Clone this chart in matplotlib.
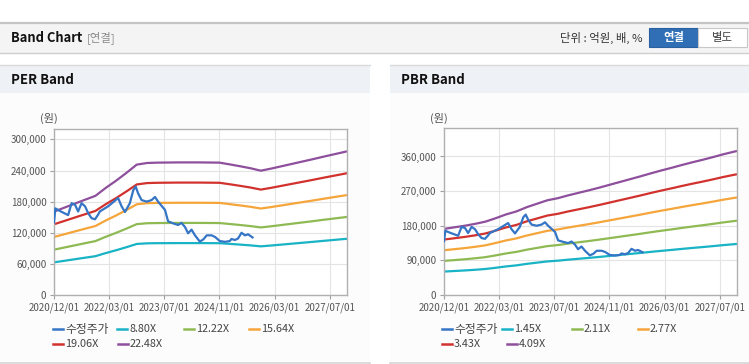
import matplotlib.pyplot as plt
from matplotlib.patches import Rectangle
from matplotlib.lines import Line2D
from matplotlib.ticker import FuncFormatter

plt.rcParams['font.family'] = ['Noto Sans CJK KR', 'DejaVu Sans']

W, H = 749, 364

# x axis: months counted from 2020/12/01
tick_months = [0, 16, 32, 48, 64, 80]
tick_labels = ['2020/12/01', '2022/03/01', '2023/07/01', '2024/11/01', '2026/03/01', '2027/07/01']

band_months = list(range(0, 85, 3)) + [85]
eps = [7150, 7490, 7830, 8170, 8500, 9180, 9800, 10470, 11180, 11320,
       11350, 11360, 11370, 11370, 11370, 11360, 11350, 11200, 11040, 10870,
       10660, 10840, 11040, 11240, 11440, 11640, 11850, 12050, 12250, 12320]
bps = [42000, 43000, 44000, 45200, 46600, 48800, 51200, 53100, 55800, 58000,
       60200, 61500, 63300, 64900, 66500, 68200, 70000, 71800, 73600, 75400,
       77300, 79100, 80800, 82600, 84300, 85900, 87600, 89400, 91000, 91500]

per_multiples = [8.80, 12.22, 15.64, 19.06, 22.48]
pbr_multiples = [1.45, 2.11, 2.77, 3.43, 4.09]
band_colors = ['#19b3c6', '#8fba53', '#f5a53a', '#d1322e', '#8e4f9c']
price_color = '#3575c6'

price_months = [0, 0.4, 1.7, 3.2, 4.1, 5.1, 6.1, 7.0, 8.0, 9.0, 9.9, 10.9, 11.9, 12.8, 13.3,
                14.5, 15.7, 17.0, 18.6, 19.6, 20.6, 22.0, 23.0, 23.7, 24.4, 25.4, 26.9, 28.3,
                29.3, 30.2, 31.2, 32.2, 33.1, 34.6, 36.0, 37.0, 38.0, 38.9, 39.9, 40.9, 42.3,
                43.3, 44.3, 45.7, 46.7, 48.1, 49.6, 51.0, 51.5, 52.5, 53.4, 54.4, 55.4, 56.3, 57.6]
price = [140000, 167000, 162000, 157000, 154000, 177000, 174000, 161000, 177000, 171000,
         158000, 148000, 146000, 155000, 161000, 166000, 171000, 178000, 187000, 171000,
         160000, 177000, 202000, 209000, 196000, 183000, 180000, 183000, 189000, 180000,
         172000, 164000, 142000, 138000, 135000, 139000, 131000, 119000, 126000, 115000,
         103000, 107000, 115000, 115000, 112000, 104000, 102500, 104000, 108000, 106000,
         109000, 120000, 115000, 117000, 111000]

per_yticks = [0, 60000, 120000, 180000, 240000, 300000]
pbr_yticks = [0, 90000, 180000, 270000, 360000]


def fx(x):
    return x / W


def fy(y):
    return 1 - y / H


def rect(fig, x0, y0, x1, y1, z=-5, **kw):
    fig.add_artist(Rectangle((fx(x0), fy(y1)), fx(x1) - fx(x0), fy(y0) - fy(y1),
                             transform=fig.transFigure, zorder=z, **kw))


def hline(fig, x0, x1, y, color, lw=1.0):
    fig.add_artist(Line2D([fx(x0), fx(x1)], [fy(y), fy(y)], transform=fig.transFigure,
                          color=color, lw=lw, zorder=-4))


fig = plt.figure(figsize=(W / 100, H / 100), dpi=100)

# top header bar
hline(fig, 0, W, 22.5, '#c4c4c4', lw=1.6)
rect(fig, 0, 23.5, W, 52.5, facecolor='#f4f4f4', edgecolor='none')
hline(fig, 0, W, 53, '#cfcfcf', lw=1.0)
fig.text(fx(11), fy(38), 'Band Chart', fontsize=9.3, fontweight='bold', color='#111', va='center')
fig.text(fx(87), fy(38), '[연결]', fontsize=8.2, color='#8a8a8a', va='center')
fig.text(fx(643), fy(38), '단위 : 억원, 배, %', fontsize=8.2, color='#333', va='center', ha='right')
rect(fig, 649, 28, 698, 47, z=1, facecolor='#306fb5', edgecolor='#2a609f', lw=0.8)
rect(fig, 698, 28, 747, 47, z=1, facecolor='white', edgecolor='#c8c8c8', lw=0.8)
fig.text(fx(673.5), fy(37.5), '연결', fontsize=8.2, fontweight='bold', color='white', va='center', ha='center')
fig.text(fx(722.5), fy(37.5), '별도', fontsize=8.2, color='#444', va='center', ha='center')


def panel(x0, x1, title, multiples, base, yticks, ymax, ax_px, legend_cols):
    hline(fig, x0, x1, 64.5, '#dadada')
    rect(fig, x0, 65, x1, 92.5, facecolor='#eef1f5', edgecolor='none')
    rect(fig, x0, 92.5, x1, 362, facecolor='#fcfcfc', edgecolor='none')
    hline(fig, x0, x1, 363, '#d6d6d6', lw=1.2)
    fig.text(fx(x0 + 11), fy(79.5), title, fontsize=9.5, fontweight='bold', color='#111', va='center')

    left, right, top, bottom = ax_px
    ax = fig.add_axes([fx(left), fy(bottom), fx(right) - fx(left), fy(top) - fy(bottom)])
    ax.set_facecolor('white')
    for m, c in zip(multiples, band_colors):
        ax.plot(band_months, [v * m for v in base], color=c, lw=1.6, solid_capstyle='butt')
    ax.plot(price_months, price, color=price_color, lw=1.6, zorder=5)
    ax.set_xlim(0, 85)
    ax.set_ylim(0, ymax)
    ax.set_xticks(tick_months)
    ax.set_xticklabels(tick_labels)
    ax.set_yticks(yticks)
    ax.yaxis.set_major_formatter(FuncFormatter(lambda v, p: f'{int(v):,}'))
    ax.grid(color='#e4e4e4', lw=0.8)
    ax.set_axisbelow(True)
    for s in ax.spines.values():
        s.set_color('#b0b0b0')
        s.set_linewidth(1.0)
    ax.tick_params(length=3, color='#a0a0a0', labelsize=7, labelcolor='#555555', pad=2.5)
    fig.text(fx(left - 5), fy(118), '(원)', fontsize=8, color='#555', va='center', ha='center')

    names = ['수정주가'] + [f'{m:.2f}X' for m in multiples]
    colors = [price_color] + band_colors
    for (lx, ly), name, c in zip(legend_cols, names, colors):
        fig.add_artist(Line2D([fx(lx), fx(lx + 10)], [fy(ly), fy(ly)], transform=fig.transFigure,
                              color=c, lw=1.8))
        size = 8.5 if name == '수정주가' else 7.8
        fig.text(fx(lx + 12), fy(ly), name, fontsize=size, color='#444', va='center')
    return ax


panel(0, 370, 'PER Band', per_multiples, eps, per_yticks, 320000,
      (54, 347, 129, 295),
      [(53, 329), (117, 329), (184, 329), (249, 329), (53, 344), (118, 344)])
panel(390, W, 'PBR Band', pbr_multiples, bps, pbr_yticks, 434000,
      (444, 737, 128, 295),
      [(442, 329), (502, 329), (572, 329), (638, 329), (442, 344), (507, 344)])

fig.savefig('out.png', dpi=100)
